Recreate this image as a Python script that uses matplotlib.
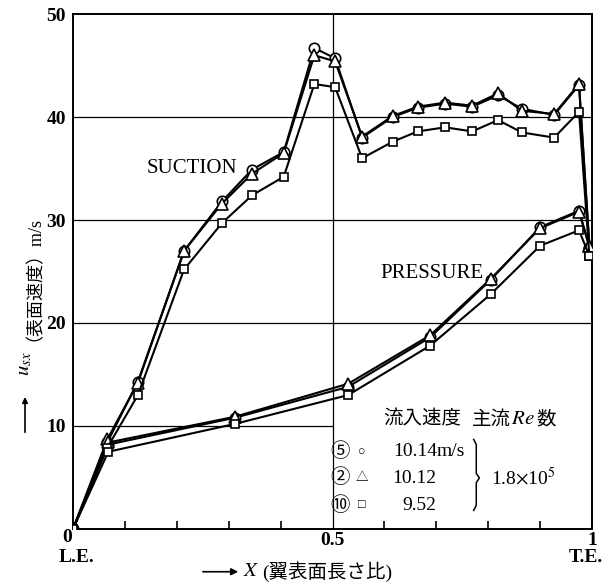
import matplotlib.pyplot as plt
from matplotlib.patches import FancyArrowPatch

plt.rcParams['font.family'] = ['Liberation Serif', 'Noto Sans CJK JP']
plt.rcParams['mathtext.fontset'] = 'stix'

# suction side, X = surface length ratio
x_suc = [0, 0.066, 0.125, 0.214, 0.287, 0.345, 0.406, 0.465, 0.505, 0.557,
         0.616, 0.664, 0.717, 0.769, 0.819, 0.865, 0.927, 0.975, 0.995]
suc_5 = [0, 8.4, 14.3, 27.0, 31.8, 34.9, 36.6, 46.7, 45.7, 38.0,
         40.0, 40.9, 41.3, 41.0, 42.1, 40.8, 40.2, 43.1, 27.3]
suc_2 = [0, 8.7, 14.2, 27.0, 31.6, 34.5, 36.5, 46.0, 45.4, 38.1,
         40.1, 41.0, 41.4, 41.1, 42.3, 40.6, 40.3, 43.2, 27.5]
suc_10 = [0, 7.9, 13.0, 25.2, 29.7, 32.4, 34.2, 43.2, 42.9, 36.0,
          37.6, 38.6, 39.0, 38.6, 39.7, 38.5, 38.0, 40.5, 26.5]

# pressure side
x_pre = [0, 0.068, 0.312, 0.530, 0.688, 0.805, 0.900, 0.975, 0.995]
pre_5 = [0, 8.2, 10.8, 13.8, 18.6, 24.2, 29.3, 30.9, 27.3]
pre_2 = [0, 8.4, 10.9, 14.1, 18.8, 24.3, 29.2, 30.8, 27.5]
pre_10 = [0, 7.5, 10.2, 13.0, 17.8, 22.8, 27.5, 29.0, 26.5]

y_ticks = [10, 20, 30, 40, 50]
x_minor = [0.1, 0.2, 0.3, 0.4, 0.6, 0.7, 0.8, 0.9]

fig = plt.figure(figsize=(6.1, 5.84), dpi=100)
ax = fig.add_axes([0.1197, 0.0942, 0.8508, 0.8818])
ax.set_xlim(0, 1)
ax.set_ylim(0, 50)

# grid
for y in [20, 30, 40]:
    ax.axhline(y, color='black', lw=0.9, zorder=1)
ax.axhline(10, xmax=0.5, color='black', lw=0.9, zorder=1)
ax.axvline(0.5, color='black', lw=0.9, zorder=1)

mk = dict(color='black', lw=1.5, mfc='white', mec='black', mew=1.2, zorder=3)
for xs, ys in [(x_suc, suc_5), (x_pre, pre_5)]:
    ax.plot(xs, ys, marker='o', ms=7.5, **mk)
for xs, ys in [(x_suc, suc_2), (x_pre, pre_2)]:
    ax.plot(xs, ys, marker='^', ms=8, **mk)
for xs, ys in [(x_suc, suc_10), (x_pre, pre_10)]:
    ax.plot(xs, ys, marker='s', ms=5.5, **mk)

for s in ax.spines.values():
    s.set_linewidth(1.4)

ax.set_yticks(y_ticks)
ax.set_yticklabels([str(v) for v in y_ticks], fontsize=14, fontweight='bold')
ax.set_xticks([0.5, 1])
ax.set_xticklabels(['0.5', '1'], fontsize=14, fontweight='bold')
ax.set_xticks(x_minor, minor=True)
ax.tick_params(axis='y', which='major', length=0, pad=5)
ax.tick_params(axis='x', which='major', length=0, pad=2)
ax.tick_params(axis='x', which='minor', direction='in', length=6, width=1.2)
ax.text(-0.012, -0.8, '0', ha='center', va='center', fontsize=14, fontweight='bold')
ax.text(0.006, -2.8, 'L.E.', ha='center', va='center', fontsize=14, fontweight='bold')
ax.text(0.988, -2.8, 'T.E.', ha='center', va='center', fontsize=14, fontweight='bold')

ax.text(0.316, 35.0, 'SUCTION', ha='right', va='center', fontsize=15)
ax.text(0.79, 24.8, 'PRESSURE', ha='right', va='center', fontsize=15)

# legend block
ax.text(0.597, 10.6, '流入速度', ha='left', va='center', fontsize=14)
ax.text(0.768, 10.6, '主流', ha='left', va='center', fontsize=14)
ax.text(0.843, 10.6, '$Re$', ha='left', va='center', fontsize=15)
ax.text(0.892, 10.6, '数', ha='left', va='center', fontsize=14)
rows = [('⑤', '○', '10.14', 7.5), ('②', '△', '10.12', 4.95), ('⑩', '□', '9.52', 2.3)]
for num, sym, val, yy in rows:
    ax.text(0.515, yy, num, ha='center', va='center', fontsize=14)
    ax.text(0.557, yy, sym, ha='center', va='center', fontsize=9)
    ax.text(0.701, yy, val, ha='right', va='center', fontsize=14)
ax.text(0.701, 7.5, 'm/s', ha='left', va='center', fontsize=14)
ax.plot([0.772, 0.777, 0.777, 0.783, 0.777, 0.777, 0.772],
        [8.7, 8.2, 5.4, 4.95, 4.5, 2.3, 1.8], color='black', lw=1.1, clip_on=False)
ax.text(0.867, 4.95, r'1.8$\times$10$^5$', ha='center', va='center', fontsize=14)

# y label with arrow
fig.text(0.041, 0.531, '（表面速度）m/s', rotation=90, ha='center', va='center', fontsize=13)
fig.text(0.041, 0.378, r'$u_{sx}$', rotation=90, ha='center', va='center', fontsize=15)
fig.patches.append(FancyArrowPatch(
    (0.041, 0.255), (0.041, 0.325), transform=fig.transFigure,
    arrowstyle='-|>', mutation_scale=8, color='black', lw=1.2))

# x label with arrow
fig.patches.append(FancyArrowPatch(
    (0.328, 0.021), (0.395, 0.021), transform=fig.transFigure,
    arrowstyle='-|>', mutation_scale=10, color='black', lw=1.2))
fig.text(0.398, 0.021, r'$X$', ha='left', va='center', fontsize=15)
fig.text(0.43, 0.021, '(翼表面長さ比)', ha='left', va='center', fontsize=14)

fig.savefig('out.png', dpi=100)
